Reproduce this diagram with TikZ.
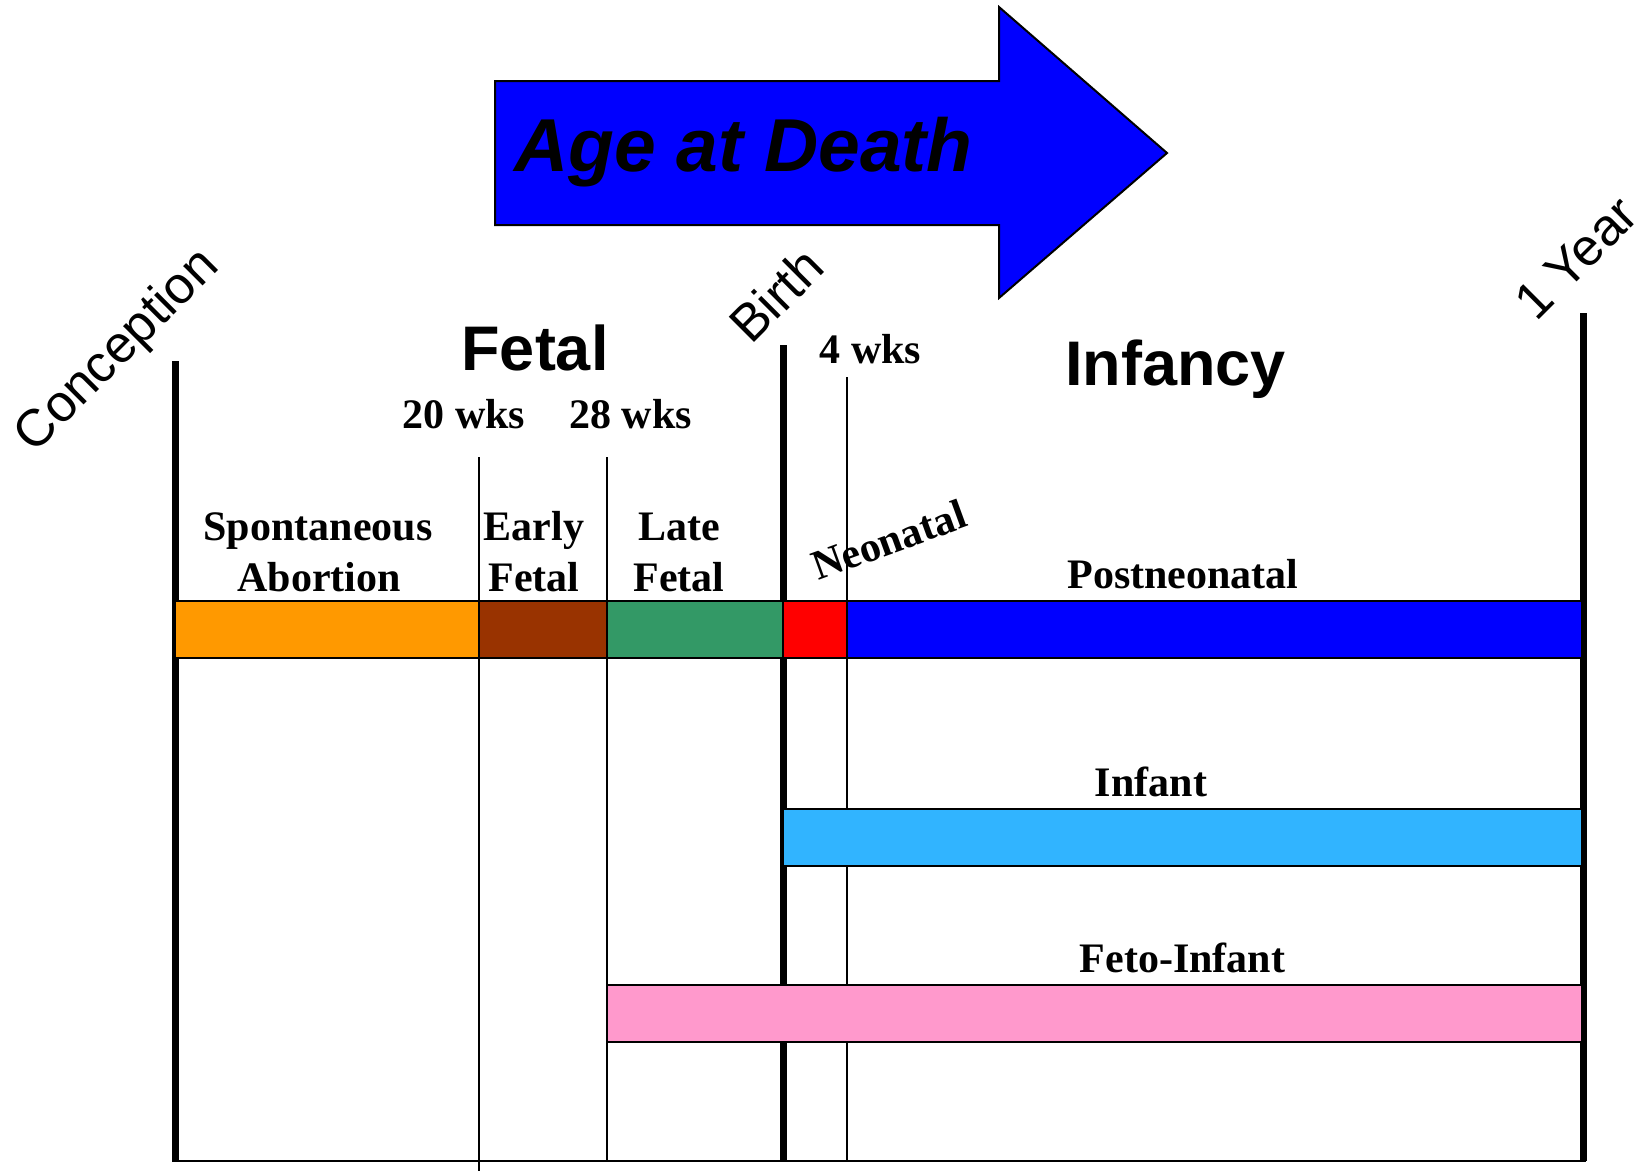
\documentclass[tikz,border=0pt]{standalone}
\usepackage{fontspec}
\setmainfont{Liberation Serif}
\newfontfamily\arialfont{Liberation Sans}

% palette
\definecolor{arrowblue}{HTML}{0000FF}
\definecolor{abortorange}{HTML}{FF9900}
\definecolor{earlybrown}{HTML}{993300}
\definecolor{lategreen}{HTML}{339966}
\definecolor{neored}{HTML}{FF0000}
\definecolor{postblue}{HTML}{0000FF}
\definecolor{infantblue}{HTML}{31B4FF}
\definecolor{fetopink}{HTML}{FF99CC}

\tikzset{
  majorline/.style={line width=7pt},
  minorline/.style={line width=2pt},
  bar/.style={draw=black, line width=1.5pt},
  seriflbl/.style={font=\bfseries\fontsize{42pt}{48pt}\selectfont, inner sep=0pt, anchor=base},
  headlbl/.style={font=\arialfont\bfseries\fontsize{63pt}{72pt}\selectfont, inner sep=0pt, anchor=base},
  milestone/.style={font=\arialfont\fontsize{52pt}{60pt}\selectfont, inner sep=0pt, rotate=45},
}

\begin{document}
\begin{tikzpicture}[x=1pt, y=-1pt]
\useasboundingbox (0,0) rectangle (1645,1171);

% ---- "Age at Death" block arrow
\draw[fill=arrowblue, line width=2pt, line join=miter]
  (495,81) -- (999,81) -- (999,7) -- (1167,153) -- (999,298) -- (999,225) -- (495,225) -- cycle;
\node[font=\arialfont\bfseries\itshape\fontsize{75pt}{90pt}\selectfont, inner sep=0pt, anchor=base west]
  (title) at (514,171) {Age at Death};

% ---- timeline marks
\coordinate (concT) at (175,361);   \coordinate (concB) at (175,1161);
\coordinate (w20T)  at (479,457);   \coordinate (w20B)  at (479,1171);
\coordinate (w28T)  at (607,457);   \coordinate (w28B)  at (607,1161);
\coordinate (birthT) at (783,345);  \coordinate (birthB) at (783,1161);
\coordinate (w4T)   at (847,377);   \coordinate (w4B)   at (847,1161);
\coordinate (yearT) at (1583,313);  \coordinate (yearB) at (1583,1161);
\coordinate (baseL) at (172,1161);  \coordinate (baseR) at (1586,1161);

\draw[majorline] (concT) -- (concB);
\draw[minorline] (w20T) -- (w20B);
\draw[minorline] (w28T) -- (w28B);
\draw[majorline] (birthT) -- (birthB);
\draw[minorline] (w4T) -- (w4B);
\draw[majorline] (yearT) -- (yearB);
\draw[line width=2.5pt] (baseL) -- (baseR);

% ---- period bars
\filldraw[bar, fill=abortorange] (175,601) rectangle (479,658);
\filldraw[bar, fill=earlybrown]  (479,601) rectangle (607,658);
\filldraw[bar, fill=lategreen]   (607,601) rectangle (783,658);
\filldraw[bar, fill=neored]      (783,601) rectangle (847,658);
\filldraw[bar, fill=postblue]    (847,601) rectangle (1582,658);
\filldraw[bar, fill=infantblue]  (783,809) rectangle (1582,866);
\filldraw[bar, fill=fetopink]    (607,985) rectangle (1582,1042);

% ---- milestone labels
\node[milestone] (conception) at (118,352) {Conception};
\node[milestone] (birth) at (776,295) {Birth};
\node[milestone] (oneyear) at (1576,258) {1 Year};

% ---- headings
\node[headlbl] (fetal) at (535,370) {Fetal};
\node[headlbl] (infancy) at (1175.5,385) {Infancy};

% ---- week marks
\node[seriflbl] (wk20) at (464,428) {20 wks};
\node[seriflbl] (wk28) at (630.5,428) {28 wks};
\node[seriflbl] (wk4)  at (870.5,363) {4 wks};

% ---- period names
\node[seriflbl] (spont) at (318,540) {Spontaneous};
\node[seriflbl] (abort) at (319,591) {Abortion};
\node[seriflbl] (early) at (534,540) {Early};
\node[seriflbl] (earlyf) at (534,591) {Fetal};
\node[seriflbl] (late) at (679,540) {Late};
\node[seriflbl] (latef) at (679,591) {Fetal};
\node[seriflbl, anchor=base west, rotate=20] (neonatal) at (818,581) {Neonatal};
\node[seriflbl] (postneo) at (1183,588) {Postneonatal};
\node[seriflbl] (infant) at (1151,796) {Infant};
\node[seriflbl] (feto) at (1182.5,972) {Feto-Infant};
\end{tikzpicture}
\end{document}
